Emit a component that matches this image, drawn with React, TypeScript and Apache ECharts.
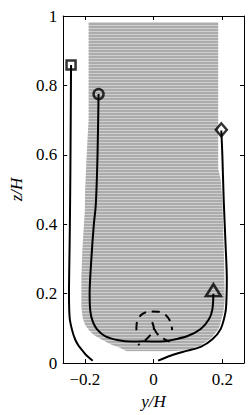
import React, { useEffect, useRef } from "react";
import * as echarts from "echarts";

const xTicks = [-0.2, 0, 0.2];
const yTicks = [0, 0.2, 0.4, 0.6, 0.8, 1];

// gray region outline [y/H, z/H]
const grayRegion: number[][] = [
  [-0.189, 0.981], [0.188, 0.981], [0.188, 0.56], [0.195, 0.53], [0.2, 0.47],
  [0.205, 0.3], [0.207, 0.184], [0.203, 0.146], [0.19, 0.1], [0.168, 0.072],
  [0.135, 0.05], [0.099, 0.038], [0.05, 0.034], [-0.078, 0.034], [-0.1, 0.045],
  [-0.122, 0.053], [-0.15, 0.067], [-0.174, 0.081], [-0.189, 0.096], [-0.199, 0.11],
  [-0.206, 0.13], [-0.21, 0.16], [-0.21, 0.25], [-0.207, 0.33], [-0.2, 0.44],
  [-0.199, 0.5], [-0.196, 0.57], [-0.193, 0.63], [-0.189, 0.7],
];

const squareLine: number[][] = [
  [-0.24, 0.859], [-0.241, 0.7], [-0.242, 0.55], [-0.243, 0.443], [-0.244, 0.35],
  [-0.246, 0.2], [-0.244, 0.13], [-0.237, 0.095], [-0.228, 0.068], [-0.218, 0.05],
  [-0.205, 0.034], [-0.194, 0.021], [-0.177, 0.007],
];

const circleLine: number[][] = [
  [-0.16, 0.775], [-0.163, 0.6], [-0.168, 0.457], [-0.174, 0.397], [-0.181, 0.3],
  [-0.186, 0.2], [-0.184, 0.15], [-0.177, 0.12], [-0.165, 0.098], [-0.141, 0.078],
  [-0.102, 0.066], [-0.064, 0.062], [-0.03, 0.063], [0.02, 0.062], [0.051, 0.066],
  [0.099, 0.078], [0.137, 0.098], [0.161, 0.126], [0.171, 0.155], [0.174, 0.2],
];

const diamondLine: number[][] = [
  [0.197, 0.67], [0.2, 0.6], [0.204, 0.47], [0.209, 0.35], [0.213, 0.241],
  [0.212, 0.184], [0.209, 0.146], [0.195, 0.098], [0.171, 0.069], [0.137, 0.047],
  [0.099, 0.036], [0.051, 0.022], [0.013, 0.007],
];

const dashArc: number[][] = [
  [-0.05, 0.095], [-0.048, 0.12], [-0.036, 0.139], [-0.012, 0.149], [0.015, 0.148],
  [0.038, 0.136], [0.05, 0.117], [0.054, 0.095],
];

const dashStemLeft: number[][] = [
  [-0.004, 0.118], [0.001, 0.1], [-0.006, 0.085], [-0.022, 0.068], [-0.045, 0.052],
];

const dashStemRight: number[][] = [
  [0.001, 0.1], [0.012, 0.083], [0.03, 0.07], [0.046, 0.062],
];

const markers = [
  { name: "square", symbol: "rect", pos: [-0.24, 0.859], size: [9, 9] },
  { name: "circle", symbol: "circle", pos: [-0.16, 0.775], size: [10, 10] },
  { name: "diamond", symbol: "diamond", pos: [0.197, 0.672], size: [11, 13] },
  { name: "triangle", symbol: "triangle", pos: [0.174, 0.21], size: [15, 12] },
];

const FONT = "'Liberation Serif', 'Times New Roman', 'DejaVu Serif', serif";

export default function App() {
  const ref = useRef<HTMLDivElement>(null);
  useEffect(() => {
    if (!ref.current) return;
    const chart = echarts.init(ref.current, undefined, { renderer: "svg" });
    const fmtX = (v: number) => (v < 0 ? "\u2212" + Math.abs(v) : String(v));
    const lineSeries = (data: number[][], dashed = false) => ({
      type: "line",
      data,
      smooth: 0.3,
      showSymbol: false,
      symbol: "none",
      lineStyle: { color: "#000", width: 2, type: dashed ? [8, 6] : "solid" },
      z: 3,
    });
    const stripeFill = (y0: number, y1: number) => {
      const h = Math.max(1, y1 - y0);
      const period = 3;
      const stops: { offset: number; color: string }[] = [];
      for (let p = 0; p < h; p += period) {
        const a = p / h;
        const b = Math.min(1, (p + 2) / h);
        const c = Math.min(1, (p + period) / h);
        stops.push({ offset: a, color: "#acacac" });
        stops.push({ offset: b, color: "#acacac" });
        stops.push({ offset: b, color: "#cfcfcf" });
        stops.push({ offset: c, color: "#cfcfcf" });
      }
      return new echarts.graphic.LinearGradient(0, 0, 0, 1, stops);
    };
    chart.setOption({
      animation: false,
      grid: { left: 61, top: 16, right: 6, bottom: 51, containLabel: false },
      xAxis: [
        {
          type: "value",
          min: -0.263,
          max: 0.263,
          position: "bottom",
          axisLine: { onZero: false, lineStyle: { color: "#000", width: 1 } },
          axisTick: { inside: true, length: 4, customValues: xTicks, lineStyle: { color: "#000" } },
          axisLabel: {
            customValues: xTicks,
            formatter: fmtX,
            fontFamily: FONT,
            fontSize: 17,
            color: "#000",
            margin: 8,
          },
          splitLine: { show: false },
          name: "y/H",
          nameLocation: "middle",
          nameGap: 29,
          nameTextStyle: { fontFamily: FONT, fontStyle: "italic", fontSize: 17, color: "#000" },
        },
        {
          type: "value",
          min: -0.263,
          max: 0.263,
          position: "top",
          axisLine: { onZero: false, lineStyle: { color: "#000", width: 1 } },
          axisTick: { inside: true, length: 4, customValues: xTicks, lineStyle: { color: "#000" } },
          axisLabel: { show: false },
          splitLine: { show: false },
        },
      ],
      yAxis: [
        {
          type: "value",
          min: 0,
          max: 1,
          interval: 0.2,
          position: "left",
          axisLine: { show: true, onZero: false, lineStyle: { color: "#000", width: 1 } },
          axisTick: { show: true, inside: true, length: 4, customValues: yTicks, lineStyle: { color: "#000" } },
          axisLabel: { customValues: yTicks, fontFamily: FONT, fontSize: 17, color: "#000", margin: 6 },
          splitLine: { show: false },
          name: "z/H",
          nameLocation: "middle",
          nameGap: 38,
          nameTextStyle: { fontFamily: FONT, fontStyle: "italic", fontSize: 17, color: "#000" },
        },
        {
          type: "value",
          min: 0,
          max: 1,
          interval: 0.2,
          position: "right",
          axisLine: { show: true, onZero: false, lineStyle: { color: "#000", width: 1 } },
          axisTick: { show: true, inside: true, length: 4, customValues: yTicks, lineStyle: { color: "#000" } },
          axisLabel: { show: false },
          splitLine: { show: false },
        },
      ],
      series: [
        {
          type: "custom",
          data: [0],
          z: 1,
          renderItem: (_params: any, api: any) => {
            const pts = grayRegion.map((p) => api.coord(p));
            const ys = pts.map((p: number[]) => p[1]);
            const y0 = Math.min(...ys);
            const y1 = Math.max(...ys);
            return {
              type: "polygon",
              shape: { points: pts },
              style: { fill: stripeFill(y0, y1), stroke: "none" },
            };
          },
        },
        lineSeries(squareLine),
        lineSeries(circleLine),
        lineSeries(diamondLine),
        lineSeries(dashArc, true),
        lineSeries(dashStemLeft, true),
        lineSeries(dashStemRight, true),
        ...markers.map((m) => ({
          type: "scatter",
          name: m.name,
          symbol: m.symbol,
          symbolSize: m.size,
          data: [m.pos],
          z: 4,
          itemStyle: { color: "rgba(0,0,0,0)", borderColor: "#000", borderWidth: 2.5 },
        })),
      ],
    });
    return () => chart.dispose();
  }, []);
  return (
    <div
      ref={ref}
      style={{ position: "absolute", left: 0, top: 0, width: 250, height: 415 }}
    />
  );
}
